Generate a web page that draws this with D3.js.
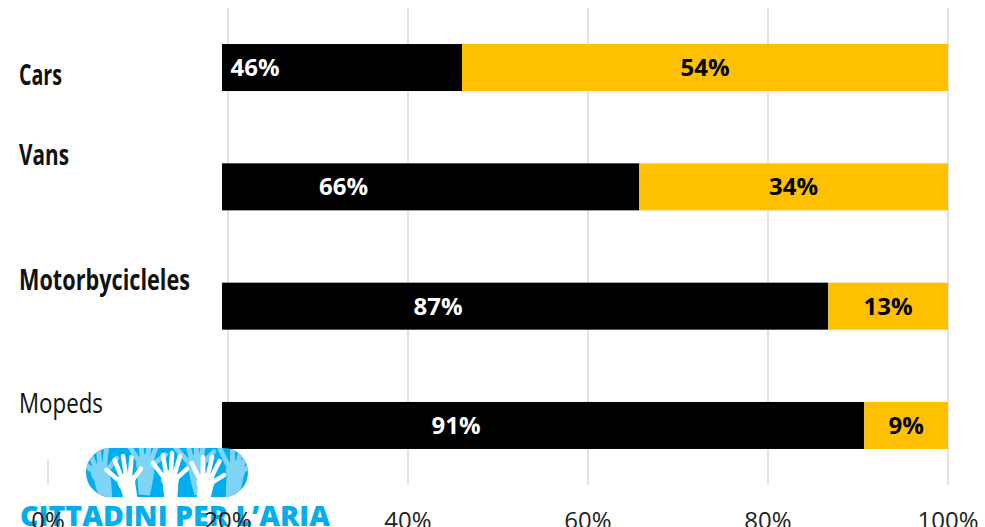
<!DOCTYPE html>
<html>
<head>
<meta charset="utf-8">
<script src="https://cdn.jsdelivr.net/npm/d3@7"></script>
<style>
  html, body { margin: 0; padding: 0; background: #fff; }
  svg { display: block; }
</style>
</head>
<body>
<svg width="985" height="527"></svg>
<script>
const categories = ['Cars', 'Vans', 'Motorbycicleles', 'Mopeds'];
const darkShare = [46, 65.7, 86.7, 90.7];
const lightShare = [54, 34.3, 13.3, 9.3];
const darkLabels = ['46%', '66%', '87%', '91%'];
const lightLabels = ['54%', '34%', '13%', '9%'];
const ticks = [0, 20, 40, 60, 80, 100];

const black = '#000000';
const gold = '#FFC000';
const grid = '#d9d9d9';
const blue = '#00AEEF';
const paleBlue = '#7fd3f4';
const font = '"Open Sans", "Liberation Sans", sans-serif';

const svg = d3.select('svg');

const x = d3.scaleLinear().domain([0, 100]).range([48, 948]);
const y = d3.scaleBand()
  .domain(categories)
  .range([8, 485])
  .paddingInner(0.606)
  .paddingOuter(0.302);

// gridlines
svg.append('g')
  .selectAll('line')
  .data(ticks)
  .join('line')
  .attr('x1', d => x(d))
  .attr('x2', d => x(d))
  .attr('y1', 8)
  .attr('y2', 485)
  .attr('stroke', grid)
  .attr('stroke-width', 1.5);

// stacked bars
const rows = categories.map((c, i) => ({
  cat: c,
  dark: darkShare[i],
  light: lightShare[i],
  darkLabel: darkLabels[i],
  lightLabel: lightLabels[i],
}));

const bars = svg.append('g');
bars.selectAll('.dark')
  .data(rows)
  .join('rect')
  .attr('class', 'dark')
  .attr('x', x(0))
  .attr('y', d => y(d.cat))
  .attr('width', d => x(d.dark) - x(0))
  .attr('height', y.bandwidth())
  .attr('fill', black);
bars.selectAll('.light')
  .data(rows)
  .join('rect')
  .attr('class', 'light')
  .attr('x', d => x(d.dark))
  .attr('y', d => y(d.cat))
  .attr('width', d => x(100) - x(d.dark))
  .attr('height', y.bandwidth())
  .attr('fill', gold);

// segment labels
bars.selectAll('.dlab')
  .data(rows)
  .join('text')
  .attr('x', d => (x(0) + x(d.dark)) / 2)
  .attr('y', d => y(d.cat) + y.bandwidth() / 2)
  .attr('dy', '0.36em')
  .attr('text-anchor', 'middle')
  .attr('fill', '#fff')
  .style('font', `bold 24px ${font}`)
  .text(d => d.darkLabel);
bars.selectAll('.llab')
  .data(rows)
  .join('text')
  .attr('x', d => (x(d.dark) + x(100)) / 2)
  .attr('y', d => y(d.cat) + y.bandwidth() / 2)
  .attr('dy', '0.36em')
  .attr('text-anchor', 'middle')
  .attr('fill', '#000')
  .style('font', `bold 24px ${font}`)
  .text(d => d.lightLabel);

// white panel over the left part, where the category names sit
svg.append('rect')
  .attr('x', 0)
  .attr('y', 0)
  .attr('width', 222)
  .attr('height', 459)
  .attr('fill', '#fff');

const labelShift = { Cars: 17.5, Vans: -21.6, Motorbycicleles: -15.9, Mopeds: -12.2 };
const labelWidth = { Cars: 43, Vans: 50, Motorbycicleles: 171, Mopeds: 84 };
svg.append('g')
  .selectAll('text')
  .data(categories)
  .join('text')
  .attr('x', 19)
  .attr('y', d => y(d) + y.bandwidth() / 2 + labelShift[d])
  .attr('textLength', d => labelWidth[d])
  .attr('lengthAdjust', 'spacingAndGlyphs')
  .attr('fill', '#111')
  .style('font-family', font)
  .style('font-size', '28px')
  .style('font-weight', d => (d === 'Mopeds' ? 'normal' : 'bold'))
  .text(d => d);

// logo
const logo = svg.append('g');
logo.append('rect')
  .attr('x', 86).attr('y', 448)
  .attr('width', 162).attr('height', 49)
  .attr('rx', 24.5)
  .attr('fill', blue);

const clip = svg.append('clipPath').attr('id', 'pill');
clip.append('rect')
  .attr('x', 86).attr('y', 448)
  .attr('width', 162).attr('height', 49)
  .attr('rx', 24.5);

function hand(g, cx, cy, s, color, rot) {
  const h = g.append('g')
    .attr('transform', `translate(${cx},${cy}) rotate(${rot}) scale(${s})`);
  h.append('path')
    .attr('d', 'M-7,-2 Q-8,10 -4,30 L6,30 Q9,12 8,-2 Z')
    .attr('fill', color);
  const fingers = [[-8, -2, -17, -14], [-4, -4, -7, -22], [1, -5, 2, -24], [5, -4, 10, -21], [8, 0, 17, -8]];
  h.selectAll('line')
    .data(fingers)
    .join('line')
    .attr('x1', d => d[0]).attr('y1', d => d[1])
    .attr('x2', d => d[2]).attr('y2', d => d[3])
    .attr('stroke', color)
    .attr('stroke-width', 4.5)
    .attr('stroke-linecap', 'round');
  h.append('ellipse')
    .attr('cx', 0).attr('cy', 2).attr('rx', 9).attr('ry', 9)
    .attr('fill', color);
}

const hands = logo.append('g').attr('clip-path', 'url(#pill)');
[[100, 470, -10], [146, 462, 5], [196, 462, -5], [236, 468, 10]].forEach(d => hand(hands, d[0], d[1], 1.1, paleBlue, d[2]));
[[126, 480, -12], [170, 477, 0], [206, 480, 10]].forEach(d => hand(hands, d[0], d[1], 1, '#fff', d[2]));

logo.append('text')
  .attr('x', 20)
  .attr('y', 526)
  .attr('textLength', 310)
  .attr('lengthAdjust', 'spacingAndGlyphs')
  .attr('fill', blue)
  .style('font', `900 29px ${font}`)
  .text('CITTADINI PER L\u2019ARIA');

// x axis labels
svg.append('g')
  .selectAll('text')
  .data(ticks)
  .join('text')
  .attr('x', d => x(d))
  .attr('y', 529)
  .attr('text-anchor', 'middle')
  .attr('fill', '#222')
  .style('font', `24px ${font}`)
  .text(d => d + '%');
</script>
</body>
</html>
